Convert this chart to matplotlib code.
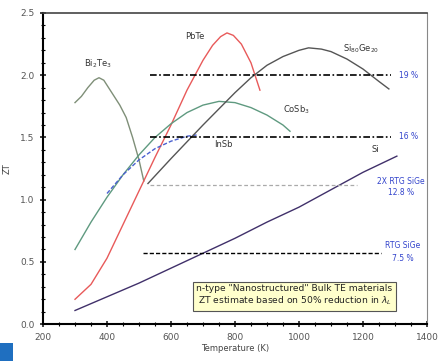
import numpy as np
import matplotlib.pyplot as plt
from matplotlib.patches import Rectangle

# curves (T in K, ZT)
bite_T = [300, 320, 340, 360, 375, 390, 410, 440, 460, 480, 500, 515]
bite_zt = [1.78, 1.83, 1.90, 1.96, 1.98, 1.96, 1.88, 1.76, 1.66, 1.50, 1.32, 1.15]

pbte_T = [300, 350, 400, 450, 500, 550, 600, 650, 700, 730, 755, 775, 795, 820, 850, 878]
pbte_zt = [0.20, 0.32, 0.53, 0.80, 1.07, 1.34, 1.60, 1.88, 2.12, 2.24, 2.31, 2.34, 2.32, 2.25, 2.10, 1.88]

cosb_T = [300, 350, 400, 450, 500, 550, 600, 650, 700, 750, 800, 850, 900, 950, 972]
cosb_zt = [0.60, 0.82, 1.02, 1.20, 1.36, 1.50, 1.61, 1.70, 1.76, 1.79, 1.78, 1.74, 1.68, 1.60, 1.55]

insb_T = [400, 450, 500, 550, 600, 650, 680]
insb_zt = [1.05, 1.20, 1.32, 1.41, 1.47, 1.51, 1.52]

sige_T = [528, 600, 700, 800, 850, 900, 950, 1000, 1030, 1070, 1100, 1150, 1200, 1250, 1281]
sige_zt = [1.13, 1.33, 1.60, 1.86, 1.98, 2.08, 2.15, 2.20, 2.22, 2.21, 2.19, 2.13, 2.05, 1.95, 1.89]

si_T = [300, 400, 500, 600, 700, 800, 900, 1000, 1100, 1200, 1306]
si_zt = [0.11, 0.22, 0.33, 0.45, 0.57, 0.69, 0.82, 0.94, 1.08, 1.22, 1.35]

# efficiency reference lines: (ZT, T start, T end)
eff19 = (2.0, 534, 1288)
eff16 = (1.5, 534, 1288)
eff128 = (1.12, 534, 1180)
eff75 = (0.57, 512, 1256)

fig = plt.figure(figsize=(4.48, 3.61), dpi=100)
ax = fig.add_axes([0.096, 0.102, 0.857, 0.862])

ax.plot(bite_T, bite_zt, color='#7f8f78', lw=1.0)
ax.plot(pbte_T, pbte_zt, color='#e85a5a', lw=1.0)
ax.plot(cosb_T, cosb_zt, color='#5f9a80', lw=1.0)
ax.plot(insb_T, insb_zt, color='#4a60d0', lw=1.0, ls='--', dashes=(3, 1.5))
ax.plot(sige_T, sige_zt, color='#555555', lw=1.0)
ax.plot(si_T, si_zt, color='#40306a', lw=1.0)

ax.plot(eff19[1:], [eff19[0]] * 2, color='black', lw=1.2, ls='-.', dashes=(4, 1.5, 1, 1.5))
ax.plot(eff16[1:], [eff16[0]] * 2, color='black', lw=1.2, ls='-.', dashes=(4, 1.5, 1, 1.5))
ax.plot(eff128[1:], [eff128[0]] * 2, color='#aaaaaa', lw=0.9, ls='--', dashes=(3, 2))
ax.plot(eff75[1:], [eff75[0]] * 2, color='black', lw=1.0, ls='--', dashes=(3, 1.5))

lab = dict(fontsize=6, color='#333333')
ax.text(372, 2.07, 'Bi$_2$Te$_3$', ha='center', **lab)
ax.text(675, 2.29, 'PbTe', ha='center', **lab)
ax.text(1194, 2.19, 'Si$_{80}$Ge$_{20}$', ha='center', **lab)
ax.text(991, 1.70, 'CoSb$_3$', ha='center', **lab)
ax.text(763, 1.42, 'InSb', ha='center', **lab)
ax.text(1240, 1.38, 'Si', ha='center', **lab)

blue = dict(fontsize=5.5, color='#3344cc', ha='center', va='center')
ax.text(1344, 2.0, '19 %', **blue)
ax.text(1344, 1.51, '16 %', **blue)
ax.text(1318, 1.15, '2X RTG SiGe', **blue)
ax.text(1318, 1.06, '12.8 %', **blue)
ax.text(1325, 0.63, 'RTG SiGe', **blue)
ax.text(1325, 0.53, '7.5 %', **blue)

ax.text(986, 0.23, 'n-type "Nanostructured" Bulk TE materials\n'
        'ZT estimate based on 50% reduction in $\\lambda_L$',
        fontsize=6.6, color='#222222', ha='center', va='center', linespacing=1.25,
        bbox=dict(boxstyle='square,pad=0.35', fc='#ffffcc', ec='#555555', lw=0.8))

ax.set_xlim(200, 1400)
ax.set_ylim(0, 2.5)
ax.set_xticks(np.arange(200, 1401, 200))
ax.set_xticks(np.arange(200, 1401, 50), minor=True)
ax.set_yticks([0.0, 0.5, 1.0, 1.5, 2.0, 2.5])
ax.set_yticks(np.arange(0, 2.51, 0.1), minor=True)
ax.yaxis.set_major_formatter(plt.FuncFormatter(lambda v, p: '%.1f' % v))
ax.tick_params(which='major', direction='inout', length=5, width=1.2,
               labelsize=6.5, colors='#222222', labelcolor='#555555')
ax.tick_params(which='minor', direction='inout', length=2.5, width=0.8)
ax.tick_params(top=False, right=False, which='both')

for s in ['bottom', 'left']:
    ax.spines[s].set_linewidth(1.5)
ax.spines['top'].set_linewidth(1.2)
ax.spines['top'].set_color('#444444')
ax.spines['right'].set_color('#888888')

ax.set_xlabel('Temperature (K)', fontsize=6, color='#444444', labelpad=2)
ax.set_ylabel('ZT', fontsize=6, color='#444444', labelpad=6)

fig.patches.append(Rectangle((0, 0), 0.029, 0.05, transform=fig.transFigure,
                             fc='#1f6fc0', ec='none'))

fig.savefig('out.png', dpi=100)
